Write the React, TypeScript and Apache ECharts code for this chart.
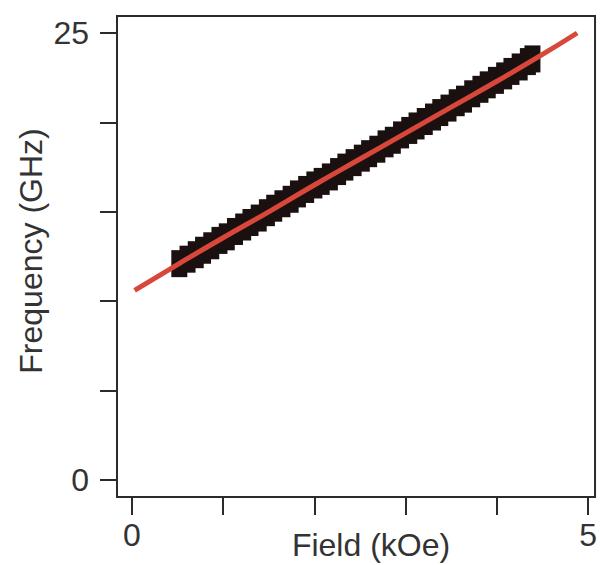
import React, { useEffect, useRef } from "react";
import * as echarts from "echarts";

// Measured band (field in kOe, frequency in GHz)
const bandField = [
  0.52, 0.61, 0.70, 0.78, 0.87, 0.96, 1.04, 1.13, 1.22, 1.30, 1.39, 1.48,
  1.56, 1.65, 1.74, 1.82, 1.91, 2.00, 2.08, 2.17, 2.26, 2.34, 2.43, 2.52,
  2.60, 2.69, 2.78, 2.86, 2.95, 3.04, 3.12, 3.21, 3.30, 3.38, 3.47, 3.56,
  3.64, 3.73, 3.82, 3.90, 3.99, 4.08, 4.16, 4.25, 4.34, 4.39,
];
const bandFreq = [
  12.1, 12.35, 12.6, 12.85, 13.1, 13.4, 13.6, 13.9, 14.15, 14.4, 14.65, 14.95,
  15.2, 15.45, 15.7, 16.0, 16.25, 16.5, 16.7, 16.95, 17.25, 17.5, 17.75, 18.0,
  18.25, 18.5, 18.8, 19.0, 19.3, 19.55, 19.8, 20.05, 20.3, 20.55, 20.8, 21.1,
  21.3, 21.6, 21.85, 22.1, 22.35, 22.6, 22.85, 23.1, 23.4, 23.55,
];

// Fitted curve
const fitField = [0.03, 0.5, 1.0, 1.5, 2.0, 2.5, 3.0, 3.5, 4.0, 4.5, 4.88];
const fitFreq = [10.6, 12.05, 13.55, 15.0, 16.5, 17.95, 19.4, 20.85, 22.3, 23.8, 25.0];

const xTicks = [0, 1, 2, 3, 4, 5];
const xTickLabels = [0, 5];
const yTicks = [0, 5, 10, 15, 20, 25];
const yTickLabels = [0, 25];

const FONT = "'Liberation Sans', Arial, Helvetica, sans-serif";
const AXIS = "#2b2b2b";
const TEXT = "#333333";

export default function App() {
  const ref = useRef<HTMLDivElement>(null);
  useEffect(() => {
    if (!ref.current) return;
    const chart = echarts.init(ref.current, undefined, { renderer: "svg" });
    chart.setOption({
      animation: false,
      backgroundColor: "#ffffff",
      grid: {
        left: 117,
        right: 2,
        top: 16,
        bottom: 68,
        show: true,
        borderColor: AXIS,
        borderWidth: 2,
        backgroundColor: "transparent",
      },
      xAxis: {
        type: "value",
        min: -0.163,
        max: 5.076,
        axisLine: { show: true, onZero: false, lineStyle: { color: AXIS, width: 2 } },
        axisTick: {
          show: true,
          inside: false,
          length: 18,
          customValues: xTicks,
          lineStyle: { color: AXIS, width: 2 },
        },
        axisLabel: {
          customValues: xTickLabels,
          margin: 22,
          fontSize: 32,
          fontFamily: FONT,
          color: TEXT,
        },
        splitLine: { show: false },
      },
      yAxis: {
        type: "value",
        min: -0.95,
        max: 25.95,
        axisLine: { show: true, onZero: false, lineStyle: { color: AXIS, width: 2 } },
        axisTick: {
          show: true,
          inside: false,
          length: 17,
          customValues: yTicks,
          lineStyle: { color: AXIS, width: 2 },
        },
        axisLabel: {
          customValues: yTickLabels,
          margin: 28,
          fontSize: 32,
          fontFamily: FONT,
          color: TEXT,
          padding: [8, 0, 0, 0],
        },
        splitLine: { show: false },
      },
      graphic: [
        {
          type: "text",
          x: 371,
          y: 545,
          style: {
            text: "Field (kOe)",
            fontSize: 32,
            fontFamily: FONT,
            fill: TEXT,
            align: "center",
            verticalAlign: "middle",
          },
        },
        {
          type: "text",
          x: 31,
          y: 251,
          rotation: Math.PI / 2,
          style: {
            text: "Frequency (GHz)",
            fontSize: 32,
            fontFamily: FONT,
            fill: TEXT,
            align: "center",
            verticalAlign: "middle",
          },
        },
      ],
      series: [
        {
          type: "scatter",
          data: bandField.map((x, i) => [x, bandFreq[i]]),
          symbol: "rect",
          symbolSize: [16, 27],
          itemStyle: { color: "#1a1010", opacity: 1 },
          z: 2,
        },
        {
          type: "line",
          data: fitField.map((x, i) => [x, fitFreq[i]]),
          smooth: true,
          showSymbol: false,
          lineStyle: { color: "#d9473a", width: 5 },
          z: 3,
        },
      ],
    });
    return () => chart.dispose();
  }, []);
  return (
    <div
      ref={ref}
      style={{ position: "fixed", left: 0, top: 0, width: 600, height: 565 }}
    />
  );
}
